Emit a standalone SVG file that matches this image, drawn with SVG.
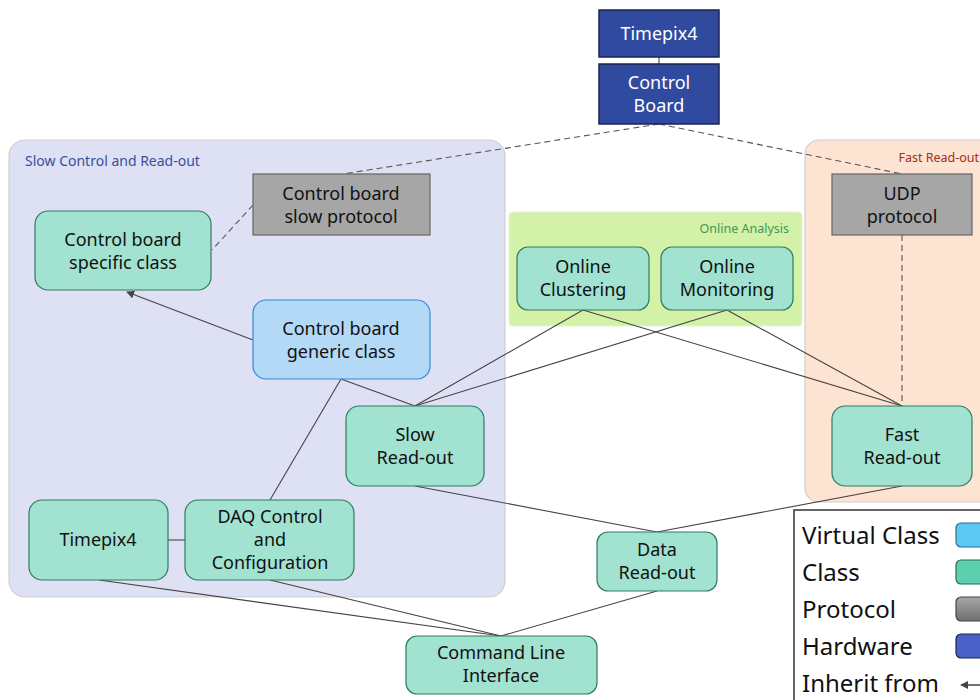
<svg xmlns="http://www.w3.org/2000/svg" width="980" height="700" viewBox="0 0 980 700">
<defs>
<marker id="inh" viewBox="0 0 10 10" refX="9" refY="5" markerWidth="8" markerHeight="8" orient="auto-start-reverse" markerUnits="userSpaceOnUse">
<path d="M0,0 L10,5 L0,10 z" fill="#444"/>
</marker>
<linearGradient id="gp" x1="0" y1="0" x2="0" y2="1"><stop offset="0" stop-color="#a8a8a8"/><stop offset="1" stop-color="#6e6e6e"/></linearGradient>
<style>
text{font-family:"Noto Sans","DejaVu Sans",sans-serif;}
.t{font-size:18px;fill:#111;text-anchor:middle;}
.tw{font-size:18px;fill:#fff;text-anchor:middle;}
.cls{fill:#a1e2d0;stroke:#2f7c61;stroke-width:1.2;}
.virt{fill:#b3d9f7;stroke:#3a8ad6;stroke-width:1.2;}
.proto{fill:#a6a6a6;stroke:#666;stroke-width:1.2;}
.hw{fill:#2f4a9e;stroke:#1b2450;stroke-width:1.5;}
.ln{stroke:#444;stroke-width:1.1;fill:none;}
.dl{stroke:#555;stroke-width:1.1;fill:none;stroke-dasharray:6,4;}
.lg{font-size:24px;fill:#111;}
</style>
</defs>
<rect width="980" height="700" fill="#fff"/>

<g id="group-slow">
<rect x="9" y="140" width="496" height="457" rx="16" fill="#dde1f3" stroke="#cfcfcf" stroke-width="1.2"/>
<text x="25" y="166" font-size="14" fill="#3a4fa0">Slow Control and Read-out</text>
</g>
<g id="group-fast">
<rect x="805" y="140" width="200" height="362" rx="14" fill="#fde3d2" stroke="#cfcfcf" stroke-width="1.2"/>
<text x="979" y="162" font-size="12.5" fill="#a03020" text-anchor="end">Fast Read-out</text>
</g>
<g id="group-online">
<rect x="509" y="212" width="293" height="114" rx="4" fill="#d4f1a8" stroke="#e6f0d8" stroke-width="1"/>
<text x="789" y="233" font-size="12.5" fill="#3a9a5a" text-anchor="end">Online Analysis</text>
</g>

<g id="connectors">
<line class="ln" x1="659" y1="57" x2="659" y2="64"/>
<line class="dl" x1="659" y1="124" x2="343" y2="174"/>
<line class="dl" x1="659" y1="124" x2="902" y2="174"/>
<line class="dl" x1="253" y1="205" x2="212" y2="250"/>
<line class="dl" x1="902" y1="235" x2="902" y2="406"/>
<line class="ln" x1="253" y1="340" x2="127" y2="292" marker-end="url(#inh)"/>
<line class="ln" x1="341" y1="379" x2="415" y2="406"/>
<line class="ln" x1="341" y1="379" x2="270" y2="500"/>
<line class="ln" x1="583" y1="310" x2="415" y2="406"/>
<line class="ln" x1="583" y1="310" x2="902" y2="406"/>
<line class="ln" x1="727" y1="310" x2="415" y2="406"/>
<line class="ln" x1="727" y1="310" x2="902" y2="406"/>
<line class="ln" x1="415" y1="486" x2="657" y2="532"/>
<line class="ln" x1="902" y1="486" x2="657" y2="532"/>
<line class="ln" x1="168" y1="540" x2="185" y2="540"/>
<line class="ln" x1="99" y1="580" x2="501" y2="636"/>
<line class="ln" x1="270" y1="580" x2="501" y2="636"/>
<line class="ln" x1="657" y1="591" x2="501" y2="636"/>
</g>

<g id="hw-timepix4">
<rect class="hw" x="599" y="10" width="120" height="47"/>
<text class="tw" x="659" y="40">Timepix4</text>
</g>
<g id="hw-control-board">
<rect class="hw" x="599" y="64" width="120" height="60"/>
<text class="tw" x="659" y="89">Control</text>
<text class="tw" x="659" y="112">Board</text>
</g>
<g id="slow-protocol">
<rect class="proto" x="253" y="174" width="177" height="61"/>
<text class="t" x="341" y="200">Control board</text>
<text class="t" x="341" y="223">slow protocol</text>
</g>
<g id="udp-protocol">
<rect class="proto" x="832" y="174" width="140" height="61"/>
<text class="t" x="902" y="200">UDP</text>
<text class="t" x="902" y="223">protocol</text>
</g>
<g id="cb-specific">
<rect class="cls" x="35" y="211" width="176" height="79" rx="13"/>
<text class="t" x="123" y="246">Control board</text>
<text class="t" x="123" y="269">specific class</text>
</g>
<g id="cb-generic">
<rect class="virt" x="253" y="300" width="177" height="79" rx="13"/>
<text class="t" x="341" y="335">Control board</text>
<text class="t" x="341" y="358">generic class</text>
</g>
<g id="online-clustering">
<rect class="cls" x="517" y="247" width="132" height="63" rx="11"/>
<text class="t" x="583" y="273">Online</text>
<text class="t" x="583" y="296">Clustering</text>
</g>
<g id="online-monitoring">
<rect class="cls" x="661" y="247" width="132" height="63" rx="11"/>
<text class="t" x="727" y="273">Online</text>
<text class="t" x="727" y="296">Monitoring</text>
</g>
<g id="slow-readout">
<rect class="cls" x="346" y="406" width="138" height="80" rx="13"/>
<text class="t" x="415" y="441">Slow</text>
<text class="t" x="415" y="464">Read-out</text>
</g>
<g id="fast-readout">
<rect class="cls" x="832" y="406" width="140" height="80" rx="13"/>
<text class="t" x="902" y="441">Fast</text>
<text class="t" x="902" y="464">Read-out</text>
</g>
<g id="timepix4-class">
<rect class="cls" x="29" y="500" width="139" height="80" rx="13"/>
<text class="t" x="98" y="546">Timepix4</text>
</g>
<g id="daq-control">
<rect class="cls" x="185" y="500" width="169" height="80" rx="13"/>
<text class="t" x="270" y="523">DAQ Control</text>
<text class="t" x="270" y="546">and</text>
<text class="t" x="270" y="569">Configuration</text>
</g>
<g id="data-readout">
<rect class="cls" x="597" y="532" width="120" height="59" rx="11"/>
<text class="t" x="657" y="556">Data</text>
<text class="t" x="657" y="579">Read-out</text>
</g>
<g id="cli">
<rect class="cls" x="406" y="636" width="191" height="58" rx="11" stroke="#3a4a5a"/>
<text class="t" x="501" y="659">Command Line</text>
<text class="t" x="501" y="682">Interface</text>
</g>

<g id="legend">
<rect x="794" y="510" width="200" height="200" fill="#fff" stroke="#333" stroke-width="1.5"/>
<text class="lg" x="802" y="544">Virtual Class</text>
<text class="lg" x="802" y="581">Class</text>
<text class="lg" x="802" y="618">Protocol</text>
<text class="lg" x="802" y="655">Hardware</text>
<text class="lg" x="802" y="692">Inherit from</text>
<rect x="956" y="523" width="40" height="24" rx="5" fill="#5bc9f2" stroke="#2a6f8f" stroke-width="1.2"/>
<rect x="956" y="560" width="40" height="24" rx="5" fill="#5ccfae" stroke="#2b6b55" stroke-width="1.2"/>
<rect x="956" y="597" width="40" height="24" rx="5" fill="url(#gp)" stroke="#444" stroke-width="1.2"/>
<rect x="956" y="634" width="40" height="24" rx="5" fill="#4a62c8" stroke="#1b2450" stroke-width="1.2"/>
<line x1="985" y1="685" x2="961" y2="685" stroke="#111" stroke-width="1.2" marker-end="url(#inh)"/>
</g>
</svg>
